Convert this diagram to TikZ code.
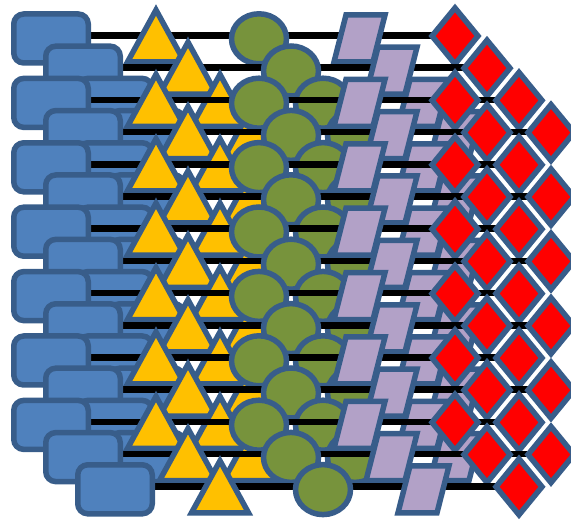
\documentclass[tikz,border=0pt]{standalone}
\usetikzlibrary{shapes.geometric}
\definecolor{edgeblue}{HTML}{385D8A}
\definecolor{boxblue}{HTML}{4F81BD}
\definecolor{triyellow}{HTML}{FFC000}
\definecolor{circgreen}{HTML}{77933C}
\definecolor{paralav}{HTML}{B2A1C7}
\definecolor{diared}{HTML}{FF0000}
\begin{document}
\begin{tikzpicture}[x=1pt,y=-1pt,
  shp/.style={draw=edgeblue,line width=5.5pt,inner sep=0pt,outer sep=0pt},
  boxnode/.style={shp,fill=boxblue,rectangle,rounded corners=10pt,minimum width=74.5pt,minimum height=49pt},
  tripath/.style={shp,fill=triyellow},
  ellnode/.style={shp,fill=circgreen,ellipse,minimum width=55pt,minimum height=50pt},
  parapath/.style={shp,fill=paralav},
  dianode/.style={shp,fill=diared,diamond,minimum width=46pt,minimum height=56pt},
  conn/.style={line width=6.5pt,black}]
\useasboundingbox (0,0) rectangle (571,521);
\clip (0,0) rectangle (571,521);
\foreach \i in {0,...,6}{
  \foreach \j in {0,...,3}{
    \pgfmathtruncatemacro\rw{2*\i+\j}
    \ifnum\rw<15
      \pgfmathsetmacro\dx{32*\j}
      \pgfmathsetmacro\dy{32.2*\rw}
      \coordinate (a-\i-\j) at (51+\dx,35.5+\dy);
      \coordinate (b-\i-\j) at (455+\dx,35.5+\dy);
      \draw[conn] (a-\i-\j) -- (b-\i-\j);
      \node[boxnode] (r-\i-\j) at (51+\dx,38.5+\dy) {};
      \coordinate (t-\i-\j) at (156+\dx,36+\dy);
      \draw[tripath] ([shift={(0,-26)}]t-\i-\j) -- ([shift={(28.5,26)}]t-\i-\j) -- ([shift={(-28.5,26)}]t-\i-\j) -- cycle;
      \node[ellnode] (c-\i-\j) at (259+\dx,38.8+\dy) {};
      \coordinate (p-\i-\j) at (359.5+\dx,38.5+\dy);
      \draw[parapath] ([shift={(-13.5,-23.5)}]p-\i-\j) -- ([shift={(25.5,-23.5)}]p-\i-\j) -- ([shift={(13.5,23.5)}]p-\i-\j) -- ([shift={(-25.5,23.5)}]p-\i-\j) -- cycle;
      \node[dianode] (d-\i-\j) at (455+\dx,36+\dy) {};
    \fi
  }
}
\end{tikzpicture}
\end{document}
